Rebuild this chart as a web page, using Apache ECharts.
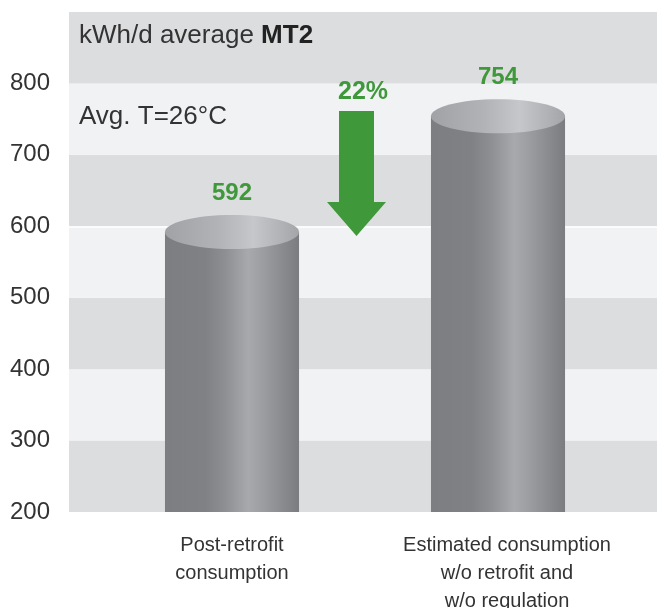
<!DOCTYPE html>
<html>
<head>
<meta charset="utf-8">
<script src="https://cdn.jsdelivr.net/npm/echarts@6/dist/echarts.min.js"></script>
<style>html,body{margin:0;padding:0;background:#fff;}#c{width:657px;height:608px;}</style>
</head>
<body>
<div id="c"></div>
<script>
const categories = ['Post-retrofit\nconsumption', 'Estimated consumption\nw/o retrofit and\nw/o regulation'];
const values = [592, 754];
const yTicks = [200, 300, 400, 500, 600, 700, 800];
const reductionLabel = '22%';
const titleMain = 'kWh/d average ';
const titleBold = 'MT2';
const subtitle = 'Avg. T=26°C';

const GREEN = '#3f983a';
const TEXT = '#333333';
const FONT = '"Liberation Sans", Arial, sans-serif';
const NUMFONT = '"Liberation Sans", Arial, sans-serif';

const chart = echarts.init(document.getElementById('c'));

const bodyGrad = () => new echarts.graphic.LinearGradient(0, 0, 1, 0, [
  {offset: 0, color: '#7d7e82'},
  {offset: 0.3, color: '#808185'},
  {offset: 0.45, color: '#8e8f93'},
  {offset: 0.62, color: '#a8a9ad'},
  {offset: 0.7, color: '#a0a1a5'},
  {offset: 1, color: '#7b7c80'}
]);
const topGrad = () => new echarts.graphic.LinearGradient(0, 0, 1, 0, [
  {offset: 0, color: '#a1a2a6'},
  {offset: 0.4, color: '#b2b3b7'},
  {offset: 0.66, color: '#c6c7ca'},
  {offset: 1, color: '#a4a5a8'}
]);

const option = {
  animation: false,
  grid: [
    {left: 69, right: 0, top: 12, bottom: 96, outerBoundsMode: 'none', containLabel: false},
    {left: 99, right: 26, top: 12, bottom: 96, outerBoundsMode: 'none', containLabel: false}
  ],
  xAxis: [
    {type: 'value', gridIndex: 0, min: 0, max: 1, show: false},
    {
      type: 'category', gridIndex: 1,
      data: [
        {value: categories[0]},
        {value: categories[1], textStyle: {padding: [0, 0, 0, 18]}}
      ],
      axisLine: {show: false}, axisTick: {show: false},
      axisLabel: {color: TEXT, fontSize: 20, lineHeight: 28, fontFamily: FONT, margin: 19, interval: 0}
    }
  ],
  yAxis: [
    {
      type: 'value', gridIndex: 0, min: 200, max: 900, interval: 100,
      axisLine: {show: false}, axisTick: {show: false},
      splitLine: {show: false},
      splitArea: {show: true, areaStyle: {color: ['#dcdddf', '#f1f2f4']}},
      axisLabel: {
        color: TEXT, fontSize: 24, fontFamily: FONT, margin: 19,
        formatter: v => yTicks.indexOf(v) >= 0 ? String(v) : ''
      }
    },
    {type: 'value', gridIndex: 1, min: 200, max: 900, interval: 100, show: false}
  ],
  series: [
    {
      type: 'line', xAxisIndex: 0, yAxisIndex: 0, data: [], silent: true, z: 1,
      markLine: {
        silent: true, symbol: 'none', label: {show: false}, z: 1,
        lineStyle: {color: '#ffffff', width: 1.5, type: 'solid'},
        data: [{yAxis: 600}]
      }
    },
    {
      type: 'custom', xAxisIndex: 1, yAxisIndex: 1, z: 5,
      data: values.map((v, i) => [i, v]),
      renderItem: function (params, api) {
        const idx = api.value(0);
        const top = api.coord([idx, api.value(1)]);
        const bottom = api.coord([idx, 200]);
        const w = api.size([1, 0])[0] * 0.504;
        const ry = 17;
        return {
          type: 'group',
          children: [
            {type: 'rect', shape: {x: top[0] - w / 2, y: top[1], width: w, height: bottom[1] - top[1]}, style: {fill: bodyGrad()}},
            {type: 'ellipse', shape: {cx: top[0], cy: top[1], rx: w / 2, ry: ry}, style: {fill: topGrad()}},
            {type: 'text', style: {
              text: String(api.value(1)), x: top[0], y: top[1] - ry - 22,
              align: 'center', verticalAlign: 'middle',
              fill: GREEN, fontSize: 24, fontWeight: 'bold', fontFamily: NUMFONT
            }}
          ]
        };
      }
    }
  ],
  graphic: [
    {
      type: 'text', left: 79, top: 23, z: 100,
      style: {
        text: '{a|' + titleMain + '}{b|' + titleBold + '}',
        rich: {
          a: {fontSize: 26, fontFamily: FONT, fill: TEXT},
          b: {fontSize: 26, fontFamily: FONT, fontWeight: 'bold', fill: '#222'}
        }
      }
    },
    {
      type: 'text', left: 79, top: 104, z: 100,
      style: {text: subtitle, fontSize: 26, fontFamily: FONT, fill: TEXT}
    },
    {
      type: 'polygon', z: 100,
      shape: {points: [[339, 111], [374, 111], [374, 202], [386, 202], [356.5, 236], [327, 202], [339, 202]]},
      style: {fill: GREEN}
    },
    {
      type: 'text', x: 363, y: 92, z: 100,
      style: {text: reductionLabel, align: 'center', verticalAlign: 'middle', fill: GREEN, fontSize: 25, fontWeight: 'bold', fontFamily: NUMFONT}
    }
  ]
};
chart.setOption(option);
</script>
</body>
</html>
